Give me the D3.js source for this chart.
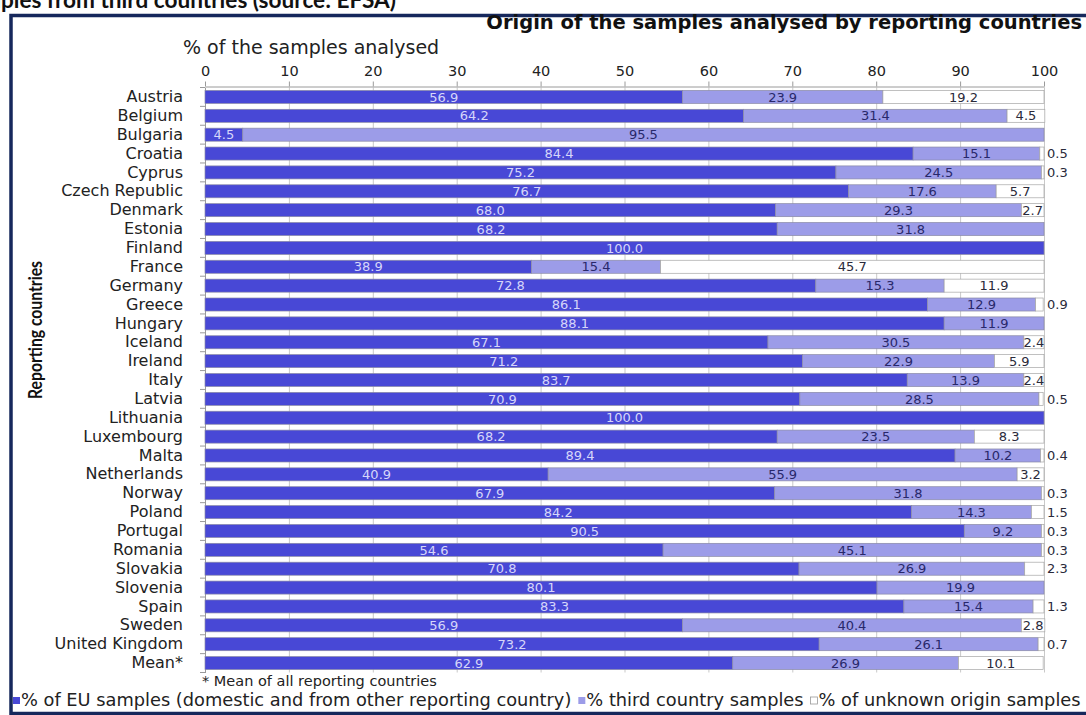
<!DOCTYPE html>
<html>
<head>
<meta charset="utf-8">
<script src="https://cdn.jsdelivr.net/npm/d3@7"></script>
<style>
  html, body { margin: 0; padding: 0; background: #fff; overflow: hidden; }
  svg { display: block; }
</style>
</head>
<body>
<svg id="chart" width="1086" height="715"></svg>
<script>
// Reporting countries, top to bottom
const countries = ["Austria", "Belgium", "Bulgaria", "Croatia", "Cyprus", "Czech Republic", "Denmark",
  "Estonia", "Finland", "France", "Germany", "Greece", "Hungary", "Iceland", "Ireland", "Italy",
  "Latvia", "Lithuania", "Luxembourg", "Malta", "Netherlands", "Norway", "Poland", "Portugal",
  "Romania", "Slovakia", "Slovenia", "Spain", "Sweden", "United Kingdom", "Mean*"];

// % of EU samples (domestic and from other reporting country)
const euSamples = [56.9, 64.2, 4.5, 84.4, 75.2, 76.7, 68.0, 68.2, 100.0, 38.9, 72.8, 86.1, 88.1, 67.1,
  71.2, 83.7, 70.9, 100.0, 68.2, 89.4, 40.9, 67.9, 84.2, 90.5, 54.6, 70.8, 80.1, 83.3, 56.9, 73.2, 62.9];

// % third country samples
const thirdCountrySamples = [23.9, 31.4, 95.5, 15.1, 24.5, 17.6, 29.3, 31.8, 0, 15.4, 15.3, 12.9, 11.9, 30.5,
  22.9, 13.9, 28.5, 0, 23.5, 10.2, 55.9, 31.8, 14.3, 9.2, 45.1, 26.9, 19.9, 15.4, 40.4, 26.1, 26.9];

// % of unknown origin samples
const unknownOriginSamples = [19.2, 4.5, 0, 0.5, 0.3, 5.7, 2.7, 0, 0, 45.7, 11.9, 0.9, 0, 2.4,
  5.9, 2.4, 0.5, 0, 8.3, 0.4, 3.2, 0.3, 1.5, 0.3, 0.3, 2.3, 0, 1.3, 2.8, 0.7, 10.1];

const xTicks = [0, 10, 20, 30, 40, 50, 60, 70, 80, 90, 100];

const seriesKeys = ["eu", "third", "unknown"];
const seriesNames = [
  "% of EU samples (domestic and from other reporting country)",
  "% third country samples",
  "% of unknown origin samples"
];

const rows = countries.map((c, i) => ({
  country: c,
  eu: euSamples[i],
  third: thirdCountrySamples[i],
  unknown: unknownOriginSamples[i]
}));

// ---- layout & style ----
const plotLeft = 205, plotRight = 1044, plotTop = 87.5, plotBottom = 672.5;
const FONT = "'DejaVu Sans', Verdana, sans-serif";
const colors = { eu: "#4848d6", third: "#9c9ce8", unknown: "#ffffff" };
const labelColors = { eu: "#d6d6fa", third: "#28286a", unknown: "#2a2a3a" };

const svg = d3.select("#chart");

const x = d3.scaleLinear().domain([0, 100]).range([plotLeft, plotRight]);
const y = d3.scaleBand().domain(countries).range([plotTop, plotBottom])
  .paddingInner(0.31).paddingOuter(0.155);

// Page heading, running off the top edge
svg.append("text")
  .attr("x", 396).attr("y", 8)
  .attr("text-anchor", "end")
  .style("font-family", "Lato, 'Open Sans', sans-serif")
  .style("font-weight", 700)
  .style("font-size", "22.6px")
  .attr("fill", "#111")
  .text("samples from third countries (source: EFSA)");

// Framed panel
svg.append("rect")
  .attr("x", 11).attr("y", 15.5)
  .attr("width", 1100).attr("height", 698)
  .attr("fill", "#fff")
  .attr("stroke", "#16285c")
  .attr("stroke-width", 3.5);

// Chart title
svg.append("text")
  .attr("x", 1082).attr("y", 29)
  .attr("text-anchor", "end")
  .style("font-family", FONT)
  .style("font-weight", 700)
  .style("font-size", "19.5px")
  .attr("fill", "#111")
  .text("Origin of the samples analysed by reporting countries");

// Axis title
svg.append("text")
  .attr("x", 183).attr("y", 54)
  .style("font-family", FONT)
  .style("font-size", "19px")
  .attr("fill", "#222")
  .text("% of the samples analysed");

// Vertical gridlines
const grid = svg.append("g")
  .attr("transform", `translate(0,${plotTop})`)
  .call(d3.axisBottom(x).tickValues(xTicks).tickSize(plotBottom - plotTop).tickFormat(""));
grid.select(".domain").remove();
grid.selectAll(".tick line").attr("stroke", "#c9c9c9").attr("stroke-width", 1);

// Top value axis
const xAxis = svg.append("g")
  .attr("transform", `translate(0,${plotTop - 1})`)
  .call(d3.axisTop(x).tickValues(xTicks).tickSize(5).tickSizeOuter(0).tickPadding(6));
xAxis.select(".domain").attr("stroke", "#9a9a9a");
xAxis.selectAll(".tick line").attr("stroke", "#9a9a9a");
xAxis.selectAll(".tick text")
  .style("font-family", FONT).style("font-size", "14.5px").attr("fill", "#222");

// Category axis with the country names
const yAxis = svg.append("g")
  .attr("transform", `translate(${plotLeft},0)`)
  .call(d3.axisLeft(y).tickSize(0).tickPadding(22));
yAxis.select(".domain").attr("stroke", "#9a9a9a");
yAxis.selectAll(".tick text")
  .style("font-family", FONT).style("font-size", "16px").attr("fill", "#222");

// Tick marks between the category bands
const boundaries = countries.map(c => y(c) - (y.step() - y.bandwidth()) / 2)
  .concat([y(countries[countries.length - 1]) + y.bandwidth() + (y.step() - y.bandwidth()) / 2]);
svg.append("g").selectAll("line")
  .data(boundaries).join("line")
  .attr("x1", plotLeft - 5).attr("x2", plotLeft)
  .attr("y1", d => d).attr("y2", d => d)
  .attr("stroke", "#9a9a9a");

// Stacked bars
const stacked = d3.stack().keys(seriesKeys)(rows);

const layers = svg.append("g").selectAll("g")
  .data(stacked).join("g")
  .attr("fill", d => colors[d.key]);

layers.selectAll("rect")
  .data(d => d.map(s => ({ key: d.key, s })))
  .join("rect")
  .filter(d => d.s[1] - d.s[0] > 0)
  .attr("x", d => x(d.s[0]))
  .attr("y", d => y(d.s.data.country))
  .attr("width", d => x(d.s[1]) - x(d.s[0]))
  .attr("height", y.bandwidth())
  .attr("stroke", d => d.key === "unknown" ? "#a6a6a6" : "#8a8aa6")
  .attr("stroke-width", 0.7);

// Value labels: centred in each segment, tiny unknown shares set beside the bar end
const fmt = d3.format(".1f");
const labels = [];
stacked.forEach(layer => {
  layer.forEach(s => {
    const v = s[1] - s[0];
    if (v <= 0) return;
    const cy = y(s.data.country) + y.bandwidth() / 2;
    if (layer.key === "unknown" && v < 2.35) {
      labels.push({ key: layer.key, v, x: x(100) + 3, cy, anchor: "start" });
    } else {
      labels.push({ key: layer.key, v, x: x((s[0] + s[1]) / 2), cy, anchor: "middle" });
    }
  });
});

svg.append("g").selectAll("text")
  .data(labels).join("text")
  .attr("x", d => d.x)
  .attr("y", d => d.cy)
  .attr("dy", "0.36em")
  .attr("text-anchor", d => d.anchor)
  .style("font-family", FONT)
  .style("font-size", "13px")
  .attr("fill", d => labelColors[d.key])
  .text(d => fmt(d.v));

// Vertical category title
svg.append("text")
  .attr("transform", "translate(42,330) rotate(-90)")
  .attr("text-anchor", "middle")
  .attr("textLength", 138)
  .attr("lengthAdjust", "spacingAndGlyphs")
  .style("font-family", "Lato, 'Open Sans', sans-serif")
  .style("font-weight", 700)
  .style("font-size", "19px")
  .attr("fill", "#111")
  .text("Reporting countries");

// Footnote
svg.append("text")
  .attr("x", 202).attr("y", 686)
  .style("font-family", FONT)
  .style("font-size", "14.5px")
  .attr("fill", "#222")
  .text("* Mean of all reporting countries");

// Legend, laid out left to right
const legend = svg.append("g").attr("transform", "translate(13,706)");
let lx = 0;
seriesKeys.forEach((k, i) => {
  legend.append("rect")
    .attr("x", lx).attr("y", -9)
    .attr("width", 7).attr("height", 7)
    .attr("fill", colors[k])
    .attr("stroke", k === "unknown" ? "#9a9a9a" : "none")
    .attr("stroke-width", 0.8);
  const t = legend.append("text")
    .attr("x", lx + 8).attr("y", 0)
    .style("font-family", FONT)
    .style("font-size", "17.8px")
    .attr("fill", "#222")
    .text(seriesNames[i]);
  lx += 8 + t.node().getComputedTextLength() + 7;
});
</script>
</body>
</html>
